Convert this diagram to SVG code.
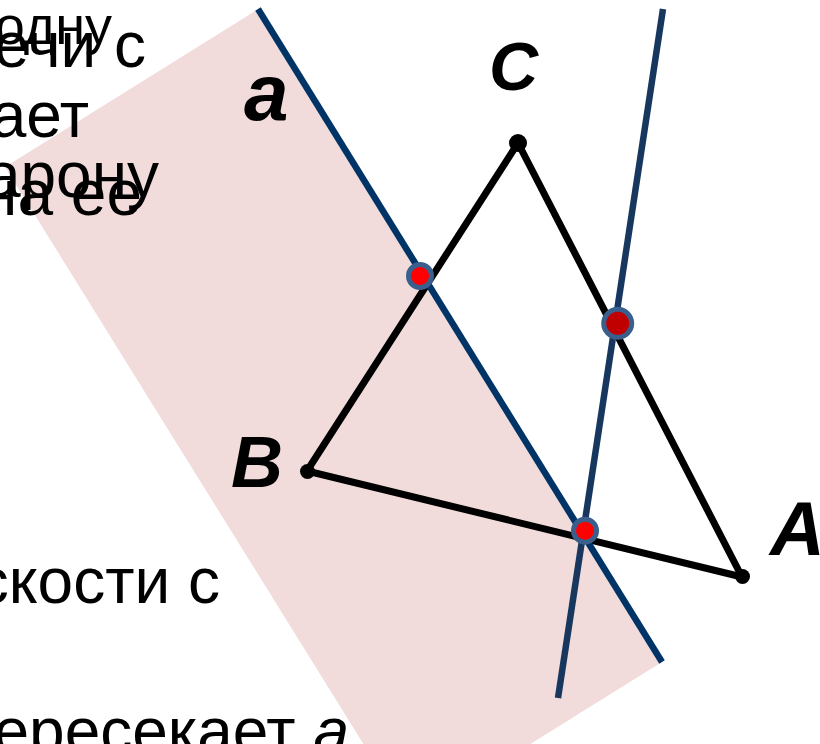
<svg xmlns="http://www.w3.org/2000/svg" width="820" height="744" viewBox="0 0 820 744">
<style>
.txt{font-family:"Liberation Sans",Arial,sans-serif;font-size:64px;fill:#000}
.lbl{font-family:"Liberation Sans",Arial,sans-serif;font-weight:bold;font-style:italic;fill:#000}
.edge{stroke:#000;stroke-width:7;stroke-linecap:round;fill:none}
.vtx{fill:#000}
.pt{stroke:#3a5f8c;stroke-width:5}
</style>
<rect width="820" height="744" fill="#ffffff"/>
<g id="plane">
<polygon points="257,10 5,167 410,819 662,662" fill="#f2dcdb"/>
</g>
<g id="text">
<text class="txt" x="112" y="44" text-anchor="end" style="font-size:54px">одну</text>
<text class="txt" x="146" y="67" text-anchor="end">ечи с</text>
<text class="txt" x="89" y="137" text-anchor="end">ает</text>
<text class="txt" x="159" y="197" text-anchor="end">арону</text>
<text class="txt" x="142" y="215" text-anchor="end">на ее</text>
<text class="txt" x="220" y="603" text-anchor="end">скости с</text>
<text class="txt" x="349" y="753" text-anchor="end">ересекает <tspan font-style="italic">а</tspan></text>
</g>
<g id="connectors">
<g id="triangle">
<line class="edge" x1="518" y1="143" x2="307" y2="471"/>
<line class="edge" x1="307" y1="471" x2="742" y2="577"/>
<line class="edge" x1="518" y1="143" x2="742" y2="577"/>
</g>
<line id="line-a" x1="258" y1="9" x2="662" y2="662" stroke="#003366" stroke-width="6.5"/>
<line id="line-2" x1="663" y1="9" x2="558" y2="698" stroke="#17375e" stroke-width="6.5"/>
</g>
<g id="vertex-C"><circle class="vtx" cx="518" cy="143" r="9"/><text class="lbl" x="489" y="90" font-size="68">C</text></g>
<g id="vertex-B"><circle class="vtx" cx="307.5" cy="471.5" r="7.5"/><text class="lbl" x="231" y="487" font-size="72">B</text></g>
<g id="vertex-A"><circle class="vtx" cx="742.5" cy="576.5" r="7.5"/><text class="lbl" x="770" y="555" font-size="76">A</text></g>
<g id="label-a"><text class="lbl" x="244" y="120" font-size="80">a</text></g>
<g id="point-1"><circle class="pt" cx="420" cy="276" r="11.5" fill="#ff0000"/></g>
<g id="point-2"><circle class="pt" cx="617.7" cy="323.3" r="14" fill="#c00000"/></g>
<g id="point-3"><circle class="pt" cx="585" cy="530.7" r="11.5" fill="#ff0000"/></g>
</svg>
